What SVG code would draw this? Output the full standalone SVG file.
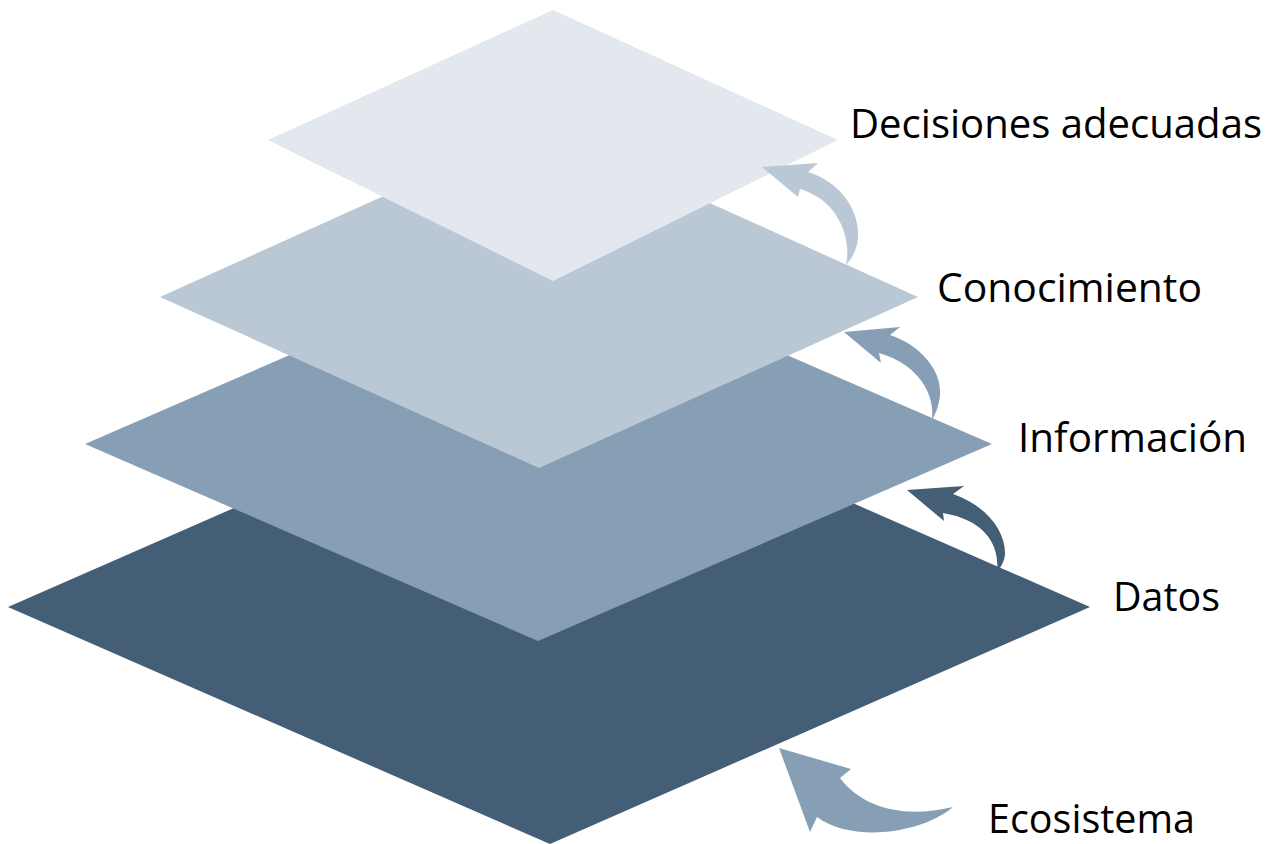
<svg xmlns="http://www.w3.org/2000/svg" width="1276" height="844" viewBox="0 0 1276 844">
<style>
.lbl{font-family:"Open Sans","Noto Sans","Liberation Sans",sans-serif;font-size:41px;fill:#000}
</style>
<rect width="1276" height="844" fill="#fff"/>
<g id="layer-ecosistema"><polygon points="8,607 549,370 1090,607 550,844" fill="#445E76"/></g>
<g id="layer-informacion"><polygon points="85,444 538,247 992,444 538,641" fill="#879FB4"/></g>
<g id="layer-conocimiento"><polygon points="160,297 539,126 918,297 539,468" fill="#B9C8D4"/></g>
<g id="layer-decisiones"><polygon points="268,140 553,10 838,140 553,281" fill="#E3E8EE"/></g>
<g id="connectors">
<path d="M762,167 L818,163 L808,172 C840,182 860,210 858,238 C857,250 852,258 846,265 C852,238 838,200 800,189 L798,197 Z" fill="#B9C8D4"/>
<path d="M844,332 L900,327 L890,335 C920,345 942,370 940,395 C939,405 936,413 932,420 C935,395 920,365 879,353 L881,363 Z" fill="#879FB4"/>
<path d="M907,490 L964,486 L953,494 C985,505 1006,530 1005,555 C1004,562 1001,567 997,572 C1000,545 985,520 943,513 L944,521 Z" fill="#445E76"/>
<path d="M779,748 L851,769 L840,778 C860,805 900,820 953,807 C920,835 850,842 817,817 L810,832 Z" fill="#879FB4"/>
</g>
<g id="labels">
<text class="lbl" x="850" y="138" textLength="412" lengthAdjust="spacingAndGlyphs">Decisiones adecuadas</text>
<text class="lbl" x="937" y="302" textLength="265" lengthAdjust="spacingAndGlyphs">Conocimiento</text>
<text class="lbl" x="1018" y="452" textLength="229" lengthAdjust="spacingAndGlyphs">Información</text>
<text class="lbl" x="1113" y="611" textLength="107" lengthAdjust="spacingAndGlyphs">Datos</text>
<text class="lbl" x="988" y="833" textLength="207" lengthAdjust="spacingAndGlyphs">Ecosistema</text>
</g>
</svg>
